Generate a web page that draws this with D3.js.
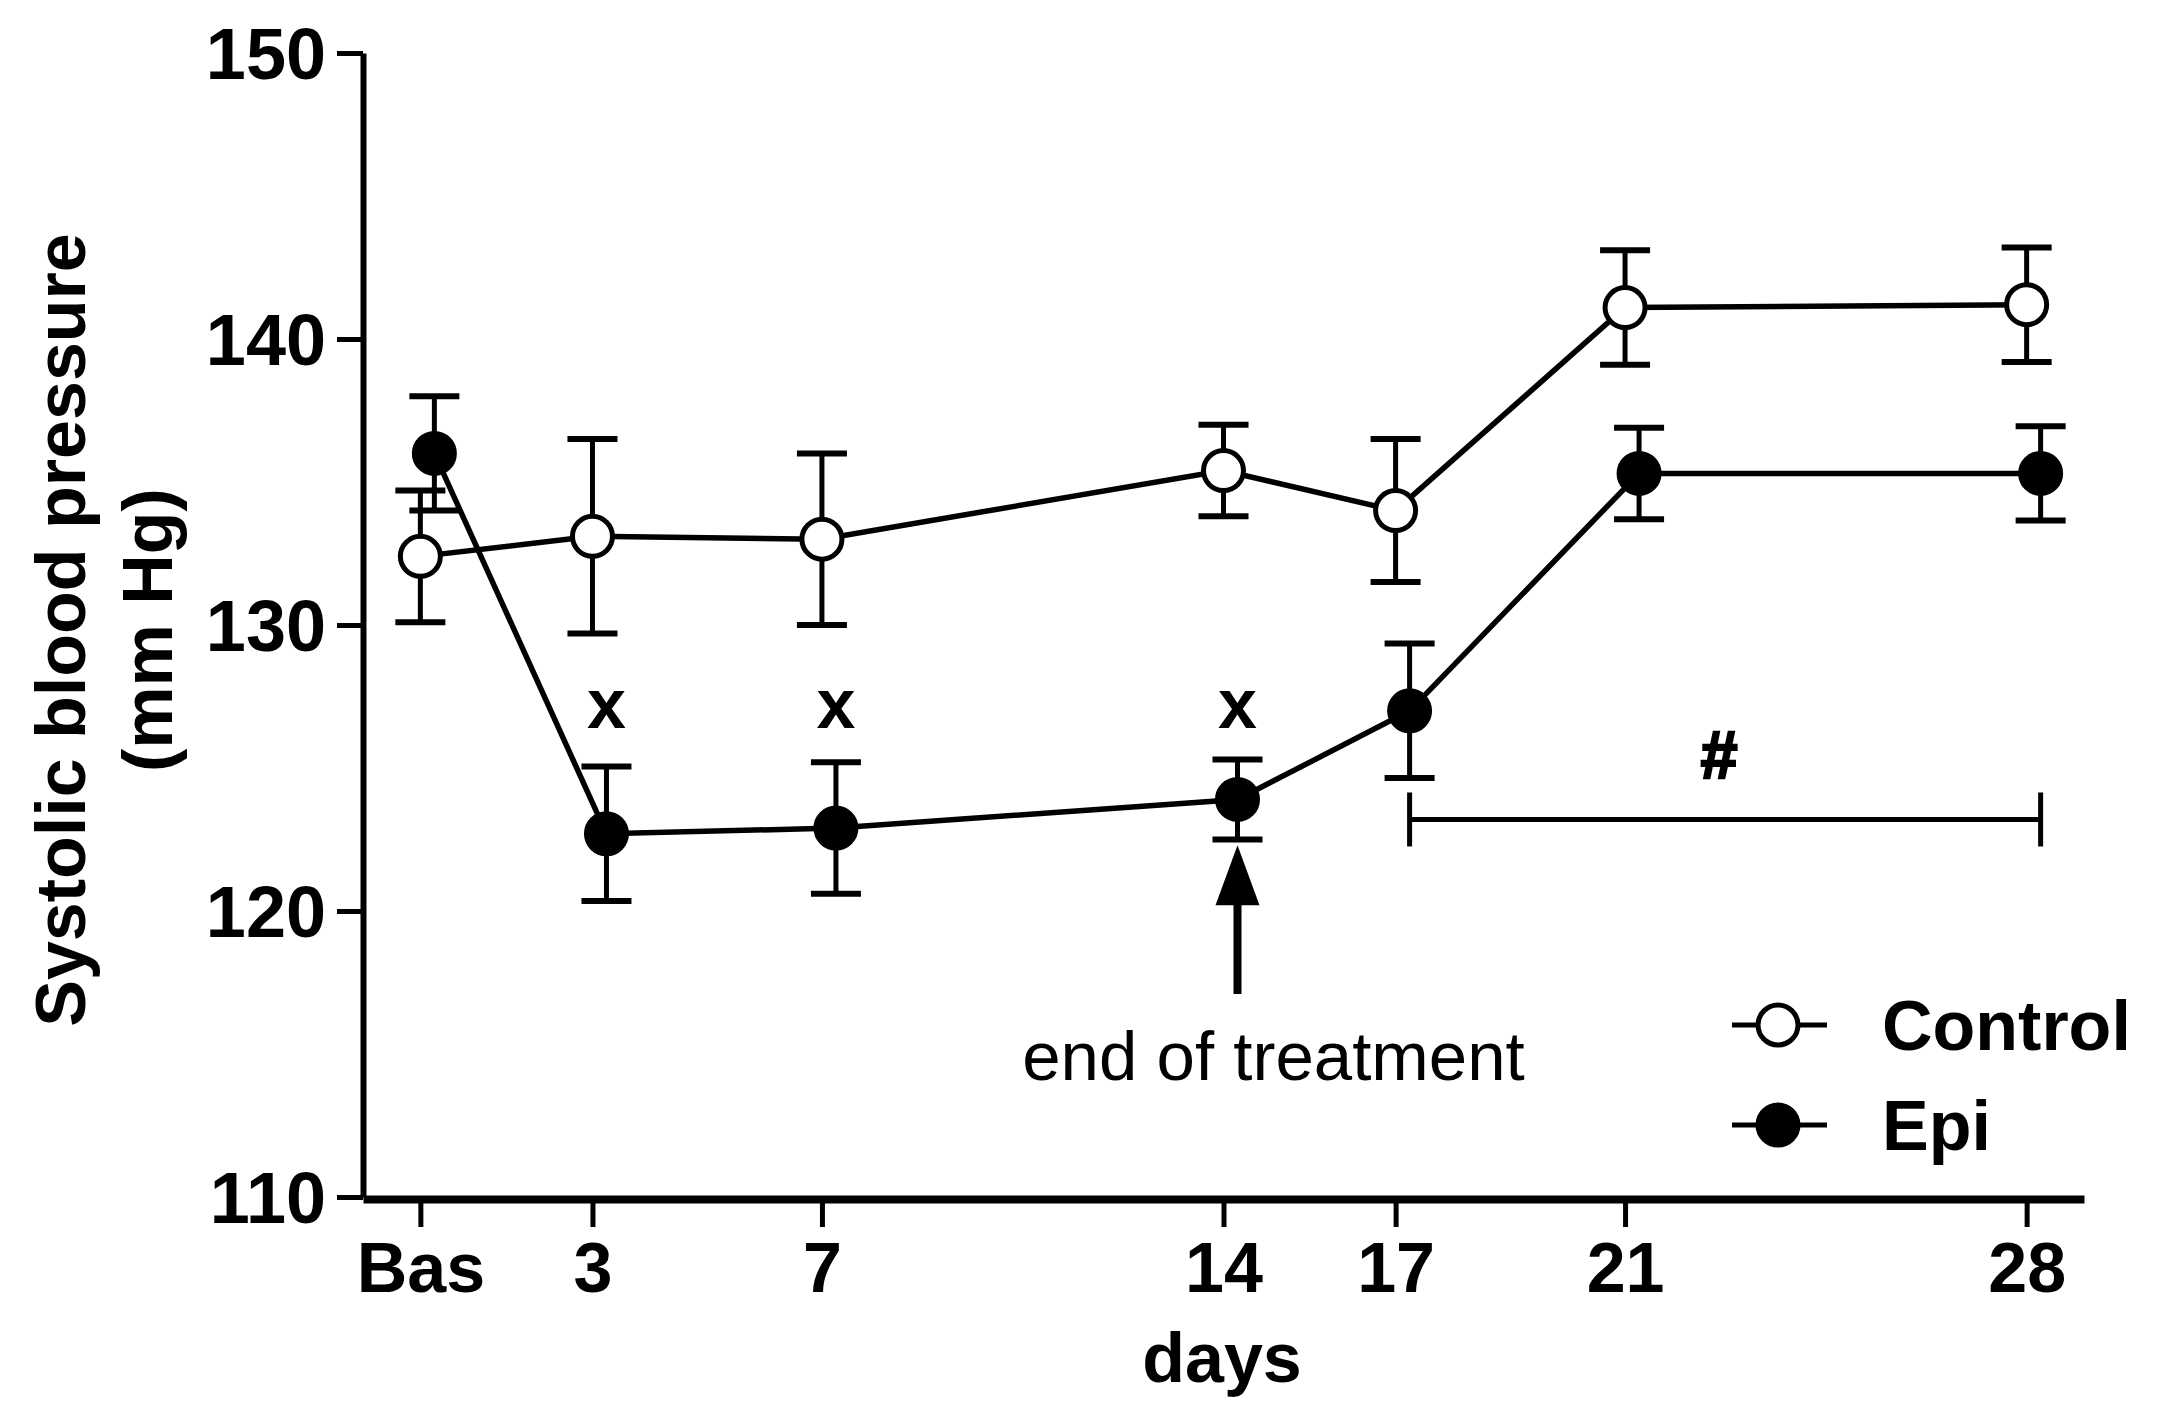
<!DOCTYPE html>
<html>
<head>
<meta charset="utf-8">
<script src="https://cdn.jsdelivr.net/npm/d3@7/dist/d3.min.js"></script>
<style>
  body { margin: 0; background: #fff; }
  svg text { font-family: "Liberation Sans", Arial, sans-serif; fill: #000; }
</style>
</head>
<body>
<div id="chart"></div>
<script>
'use strict';

// Data: systolic blood pressure (mm Hg), mean +/- SEM per day ("Bas" = baseline, day 0)
var days = [0, 3, 7, 14, 17, 21, 28]
var dayLabels = ['Bas', '3', '7', '14', '17', '21', '28']
var controlMean = [132.4, 133.1, 133.0, 135.4, 134.0, 141.1, 141.2]
var controlSem = [2.3, 3.4, 3.0, 1.6, 2.5, 2.0, 2.0]
var epiMean = [136.0, 122.7, 122.9, 123.9, 127.0, 135.3, 135.3]
var epiSem = [2.0, 2.35, 2.3, 1.4, 2.35, 1.6, 1.65]
var yTicks = [110, 120, 130, 140, 150]

// Annotations
var xMarkDays = [3, 7, 14]
var hashRange = [17, 28]
var treatmentEndDay = 14

var width = 2166
var height = 1420

// Setup: scales
var x = d3.scaleLinear()
  .domain([-1, 29])
  .range([363, 2084])

var y = d3.scaleLinear()
  .domain([110, 150])
  .range([1197, 53])

// Epi points are nudged right a little, as in the original plot
var series = [
  {name: 'Control', mean: controlMean, sem: controlSem, fill: '#fff', dodge: 0},
  {name: 'Epi', mean: epiMean, sem: epiSem, fill: '#000', dodge: 14}
]
series.forEach(function(s){
  s.points = days.map(function(d, i){
    return {day: d, mean: s.mean[i], sem: s.sem[i]}
  })
})

// Setup: SVG container
var svg = d3.select('#chart').append('svg')
  .attr('width', width)
  .attr('height', height)

svg.append('rect')
  .attr('width', width)
  .attr('height', height)
  .attr('fill', '#fff')

// Axes
var xAxis = d3.axisBottom(x)
  .tickValues(days)
  .tickFormat(function(d){ return dayLabels[days.indexOf(d)] })
  .tickSizeInner(28)
  .tickSizeOuter(0)
  .tickPadding(15)

var yAxis = d3.axisLeft(y)
  .tickValues(yTicks)
  .tickSizeInner(26)
  .tickSizeOuter(0)
  .tickPadding(11)

var gx = svg.append('g')
  .attr('class', 'axis axis--x')
  .attr('transform', 'translate(0,' + (y(110) + 2) + ')')
  .call(xAxis)

gx.select('.domain').attr('stroke', '#000').attr('stroke-width', 8)
gx.selectAll('.tick line').attr('stroke', '#000').attr('stroke-width', 5)
gx.selectAll('.tick text')
  .attr('font-size', 70)
  .attr('font-weight', 'bold')
  .attr('font-family', '"Liberation Sans", Arial, sans-serif')

var gy = svg.append('g')
  .attr('class', 'axis axis--y')
  .attr('transform', 'translate(' + x(-1) + ',0)')
  .call(yAxis)

gy.select('.domain').attr('stroke', '#000').attr('stroke-width', 6)
gy.selectAll('.tick line').attr('stroke', '#000').attr('stroke-width', 5)
gy.selectAll('.tick text')
  .attr('font-size', 72)
  .attr('font-weight', 'bold')
  .attr('font-family', '"Liberation Sans", Arial, sans-serif')
  .attr('dy', '0.36em')

// Axis titles
svg.append('text')
  .attr('transform', 'translate(85,630) rotate(-90)')
  .attr('text-anchor', 'middle')
  .attr('font-size', 70)
  .attr('font-weight', 'bold')
  .text('Systolic blood pressure')

svg.append('text')
  .attr('transform', 'translate(172,630) rotate(-90)')
  .attr('text-anchor', 'middle')
  .attr('font-size', 70)
  .attr('font-weight', 'bold')
  .text('(mm Hg)')

svg.append('text')
  .attr('x', 1222)
  .attr('y', 1382)
  .attr('text-anchor', 'middle')
  .attr('font-size', 70)
  .attr('font-weight', 'bold')
  .text('days')

// Error bars
var capHalf = 25
series.forEach(function(s){
  var eg = svg.append('g').attr('class', 'errors')
  s.points.forEach(function(p){
    var px = x(p.day) + s.dodge
    var top = y(p.mean + p.sem)
    var bot = y(p.mean - p.sem)
    eg.append('line')
      .attr('x1', px).attr('x2', px)
      .attr('y1', top).attr('y2', bot)
      .attr('stroke', '#000').attr('stroke-width', 5)
    ;[top, bot].forEach(function(cy){
      eg.append('line')
        .attr('x1', px - capHalf).attr('x2', px + capHalf)
        .attr('y1', cy).attr('y2', cy)
        .attr('stroke', '#000').attr('stroke-width', 6)
    })
  })
})

// Lines
series.forEach(function(s){
  var line = d3.line()
    .x(function(d){ return x(d.day) + s.dodge })
    .y(function(d){ return y(d.mean) })
  svg.append('path')
    .datum(s.points)
    .attr('fill', 'none')
    .attr('stroke', '#000')
    .attr('stroke-width', 5.5)
    .attr('d', line)
})

// Dots
series.forEach(function(s){
  svg.selectAll('dot-' + s.name)
    .data(s.points)
    .enter().append('circle')
      .attr('cx', function(d){ return x(d.day) + s.dodge })
      .attr('cy', function(d){ return y(d.mean) })
      .attr('r', 20)
      .attr('fill', s.fill)
      .attr('stroke', '#000')
      .attr('stroke-width', 5)
})

// "x" marks above Epi points
var epi = series[1]
svg.selectAll('xmark')
  .data(xMarkDays)
  .enter().append('text')
    .attr('x', function(d){ return x(d) + epi.dodge })
    .attr('y', y(126.4))
    .attr('text-anchor', 'middle')
    .attr('font-size', 70)
    .attr('font-weight', 'bold')
    .text('x')

// "#" bracket
var bx0 = x(hashRange[0]) + epi.dodge
var bx1 = x(hashRange[1]) + epi.dodge
var by = y(123.2)
svg.append('line')
  .attr('x1', bx0).attr('x2', bx1)
  .attr('y1', by).attr('y2', by)
  .attr('stroke', '#000').attr('stroke-width', 5)
;[bx0, bx1].forEach(function(bx){
  svg.append('line')
    .attr('x1', bx).attr('x2', bx)
    .attr('y1', by - 27).attr('y2', by + 27)
    .attr('stroke', '#000').attr('stroke-width', 5)
})
svg.append('text')
  .attr('x', (bx0 + bx1) / 2 - 6)
  .attr('y', by - 41)
  .attr('text-anchor', 'middle')
  .attr('font-size', 66)
  .attr('font-weight', 'bold')
  .attr('stroke', '#000')
  .attr('stroke-width', 2.5)
  .text('#')

// End of treatment arrow
var ax = x(treatmentEndDay) + epi.dodge
var tipY = y(122.3)
var headY = tipY + 60
svg.append('line')
  .attr('x1', ax).attr('x2', ax)
  .attr('y1', headY - 2).attr('y2', y(117.1))
  .attr('stroke', '#000').attr('stroke-width', 8)
svg.append('path')
  .attr('d', 'M' + ax + ',' + tipY + 'L' + (ax - 22) + ',' + headY + 'L' + (ax + 22) + ',' + headY + 'Z')
  .attr('fill', '#000')
svg.append('text')
  .attr('x', x(treatmentEndDay) + 50)
  .attr('y', y(114.1))
  .attr('text-anchor', 'middle')
  .attr('font-size', 69)
  .text('end of treatment')

// Legend
var legend = svg.append('g').attr('class', 'legend')
series.forEach(function(s, i){
  var ly = 1025 + i * 100
  legend.append('line')
    .attr('x1', 1732).attr('x2', 1827)
    .attr('y1', ly).attr('y2', ly)
    .attr('stroke', '#000').attr('stroke-width', 5)
  legend.append('circle')
    .attr('cx', 1778).attr('cy', ly)
    .attr('r', 20)
    .attr('fill', s.fill)
    .attr('stroke', '#000')
    .attr('stroke-width', 5)
  legend.append('text')
    .attr('x', 1882)
    .attr('y', ly + 25)
    .attr('font-size', 70)
    .attr('font-weight', 'bold')
    .text(s.name)
})
</script>
</body>
</html>
